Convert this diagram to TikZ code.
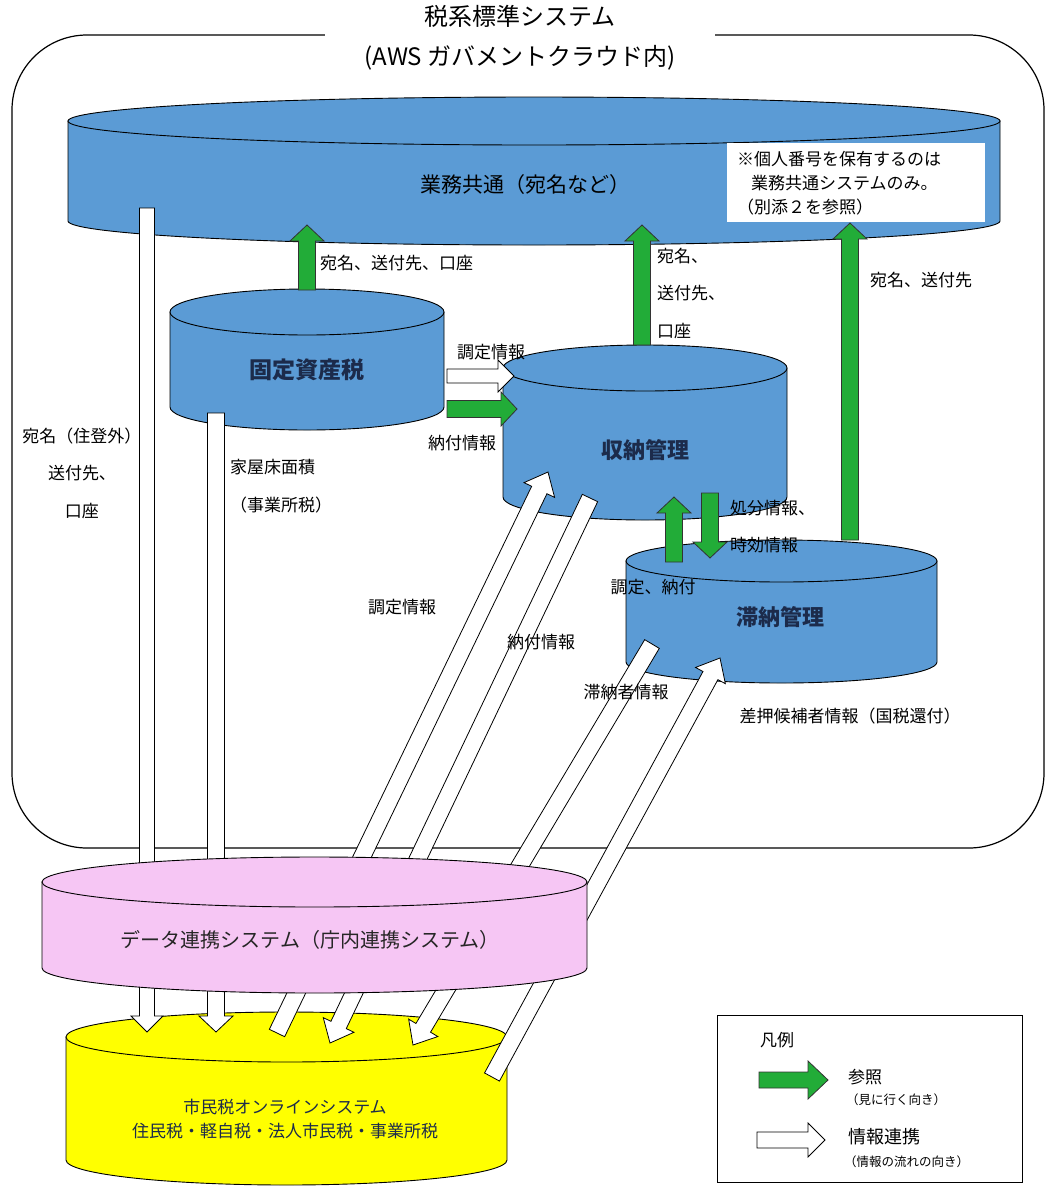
\documentclass[tikz,border=0pt]{standalone}
\usepackage{fontspec}
\setmainfont{Noto Sans CJK JP}
\usetikzlibrary{calc}
\definecolor{sysBlue}{HTML}{5B9BD5}
\definecolor{refGreen}{HTML}{22AC38}
\definecolor{linkPink}{HTML}{F6C6F4}
\definecolor{onlineYellow}{HTML}{FFFF00}
\definecolor{mNavy}{HTML}{1C2B4B}
% cylinder: fill, centre x, top y, bottom y, x radius, y radius
\newcommand{\dbcyl}[6]{%
  \filldraw[fill=#1, line width=0.9pt] ({#2-#5},#3) -- ({#2-#5},#4)
    arc[start angle=180, end angle=0, x radius=#5, y radius=#6] -- ({#2+#5},#3) -- cycle;
  \filldraw[fill=#1, line width=0.9pt] (#2,#3) ellipse[x radius=#5, y radius=#6];
}
% block arrow: style, from, to, half shaft, half head, head length
\newcommand{\blockarrow}[6]{%
  \coordinate (ba-h) at ($(#3)!#6!(#2)$);
  \filldraw[#1] ($(#2)!#4!90:(#3)$) -- ($(ba-h)!#4!-90:(#2)$) -- ($(ba-h)!#5!-90:(#2)$)
    -- (#3) -- ($(ba-h)!#5!90:(#2)$) -- ($(ba-h)!#4!90:(#2)$) -- ($(#2)!#4!-90:(#3)$) -- cycle;
}

\begin{document}
\begin{tikzpicture}[x=1pt, y=-1pt,
    lbl/.style={inner sep=0pt, font=\fontsize{17}{20}\selectfont},
    cyltext/.style={inner sep=0pt, text=mNavy, font=\fontsize{22}{26}\selectfont\bfseries},
    refarrow/.style={fill=refGreen, draw=black!80, line width=0.8pt},
    flowarrow/.style={fill=white, draw=black, line width=0.8pt}]
	\useasboundingbox (0,0) rectangle (1045,1187);
	% frame of the standard system
	\draw[line width=1.2pt, rounded corners=75pt] (12,35) rectangle (1044,848);
	\node[fill=white, minimum width=390pt, inner sep=4pt, align=center, font=\fontsize{24}{40}\selectfont] (title) at (520,38) {税系標準システム\\(AWS ガバメントクラウド内)};
	% databases
	\dbcyl{onlineYellow}{286.5}{1037}{1160}{220.5}{25}
	\dbcyl{sysBlue}{534}{121}{221}{466}{24}
	\dbcyl{sysBlue}{307}{312}{407}{137}{23}
	\dbcyl{sysBlue}{645}{368}{497}{142}{23}
	\dbcyl{sysBlue}{781.5}{561}{662}{155.5}{21}
	\node[cyltext, text=black, font=\fontsize{21}{24}\selectfont] (gyomu) at (525,185) {業務共通（宛名など）};
	\node[cyltext, font=\fontsize{23}{26}\selectfont\bfseries] (kotei) at (307,370) {固定資産税};
	\node[cyltext] (shuno) at (645,450) {収納管理};
	\node[cyltext] (tainou) at (780,617) {滞納管理};
	\node[lbl, text=mNavy, align=center, font=\fontsize{17}{24}\selectfont] (shimin) at (285,1119) {市民税オンラインシステム\\住民税・軽自税・法人市民税・事業所税};
	\node[fill=white, anchor=north west, text width=238pt, minimum height=79pt, inner xsep=10pt, align=left, font=\fontsize{17}{24}\selectfont] (note) at (727,143) {※個人番号を保有するのは\\\hspace*{14pt}業務共通システムのみ。\\（別添２を参照）};
	% arrow ends
	\coordinate (kotei-t) at (307,290);   \coordinate (gyomu-b1) at (307,225);
	\coordinate (shuno-t) at (642,345);   \coordinate (gyomu-b2) at (642,225);
	\coordinate (tainou-t) at (850,540);  \coordinate (note-b) at (850,223);
	\coordinate (kotei-r2) at (447,409);  \coordinate (shuno-l2) at (517,409);
	\coordinate (tainou-u) at (674,562);  \coordinate (shuno-b1) at (674,497);
	\coordinate (shuno-b2) at (710,493);  \coordinate (tainou-d) at (710,558);
	\coordinate (kotei-r1) at (447,376);  \coordinate (shuno-l1) at (514,376);
	\coordinate (gyomu-s) at (147,208);   \coordinate (shimin-t1) at (147,1032);
	\coordinate (kotei-s) at (216,413);   \coordinate (shimin-t2) at (216,1032);
	\coordinate (shimin-s3) at (277,1033); \coordinate (shuno-b3) at (548,472);
	\coordinate (shuno-s4) at (590,498);  \coordinate (shimin-t4) at (330,1043);
	\coordinate (tainou-s5) at (652,644); \coordinate (shimin-t5) at (413,1045);
	\coordinate (shimin-s6) at (492,1077); \coordinate (tainou-b6) at (720,658);
	% information flow
	\foreach \a/\b/\w/\W/\L in {gyomu-s/shimin-t1/7.5pt/16pt/16pt, kotei-s/shimin-t2/8.5pt/17pt/16pt,
	    shimin-s3/shuno-b3/8.5pt/17pt/20pt, shuno-s4/shimin-t4/8.5pt/17pt/20pt,
	    tainou-s5/shimin-t5/8.5pt/17pt/20pt, shimin-s6/tainou-b6/8.5pt/17pt/20pt,
	    kotei-r1/shuno-l1/7pt/16pt/16pt}
	  {\blockarrow{flowarrow}{\a}{\b}{\w}{\W}{\L}}
	\dbcyl{linkPink}{314.5}{882}{968}{272.5}{25}
	\node[cyltext, text=black!85, font=\fontsize{20}{24}\selectfont] (renkei) at (310,940) {データ連携システム（庁内連携システム）};
	% references
	\foreach \a/\b in {kotei-t/gyomu-b1, shuno-t/gyomu-b2, tainou-t/note-b, kotei-r2/shuno-l2, tainou-u/shuno-b1, shuno-b2/tainou-d}
	  {\blockarrow{refarrow}{\a}{\b}{8.5pt}{17pt}{16pt}}
	% labels
	\node[lbl, anchor=west] (l-atena1) at (320,263) {宛名、送付先、口座};
	\node[lbl, anchor=west, align=left, font=\fontsize{17}{37.5}\selectfont] (l-atena2) at (657,293) {宛名、\\送付先、\\口座};
	\node[lbl, anchor=west] (l-atena3) at (870,280) {宛名、送付先};
	\node[lbl] (l-chotei1) at (491,352) {調定情報};
	\node[lbl] (l-nofu1) at (462,443) {納付情報};
	\node[lbl, anchor=west, align=left, font=\fontsize{17}{37}\selectfont] (l-shobun) at (730,527) {処分情報、\\時効情報};
	\node[lbl] (l-chotei2) at (653,587) {調定、納付};
	\node[lbl, align=center, font=\fontsize{17}{37.5}\selectfont] (l-jutogai) at (82,473) {宛名（住登外）\\送付先、\\口座};
	\node[lbl, anchor=west, align=left, font=\fontsize{17}{38}\selectfont] (l-kaoku) at (230,486) {家屋床面積\\（事業所税）};
	\node[lbl] (l-chotei3) at (402,607) {調定情報};
	\node[lbl] (l-nofu2) at (541,642) {納付情報};
	\node[lbl] (l-tainousha) at (626,692) {滞納者情報};
	\node[lbl] (l-sashiosae) at (850,716) {差押候補者情報（国税還付）};
	% legend
	\node[draw, line width=1pt, minimum width=305pt, minimum height=167pt] (legend) at (869.5,1098.5) {};
	\node[lbl, anchor=west] (l-hanrei) at (760,1040) {凡例};
	\coordinate (lg1-s) at (759,1080); \coordinate (lg1-e) at (828,1080);
	\coordinate (lg2-s) at (757,1140); \coordinate (lg2-e) at (825,1140);
	\blockarrow{refarrow}{lg1-s}{lg1-e}{8pt}{19pt}{20pt}
	\blockarrow{flowarrow}{lg2-s}{lg2-e}{8pt}{17pt}{17pt}
	\node[lbl, anchor=west] (l-sansho) at (848,1077) {参照};
	\node[lbl, anchor=west, font=\fontsize{12.5}{15}\selectfont] (l-sansho2) at (846,1100) {（見に行く向き）};
	\node[lbl, anchor=west, font=\fontsize{18}{20}\selectfont] (l-renkei) at (848,1137) {情報連携};
	\node[lbl, anchor=west, font=\fontsize{12.5}{15}\selectfont] (l-renkei2) at (844,1162) {（情報の流れの向き）};
\end{tikzpicture}
\end{document}
